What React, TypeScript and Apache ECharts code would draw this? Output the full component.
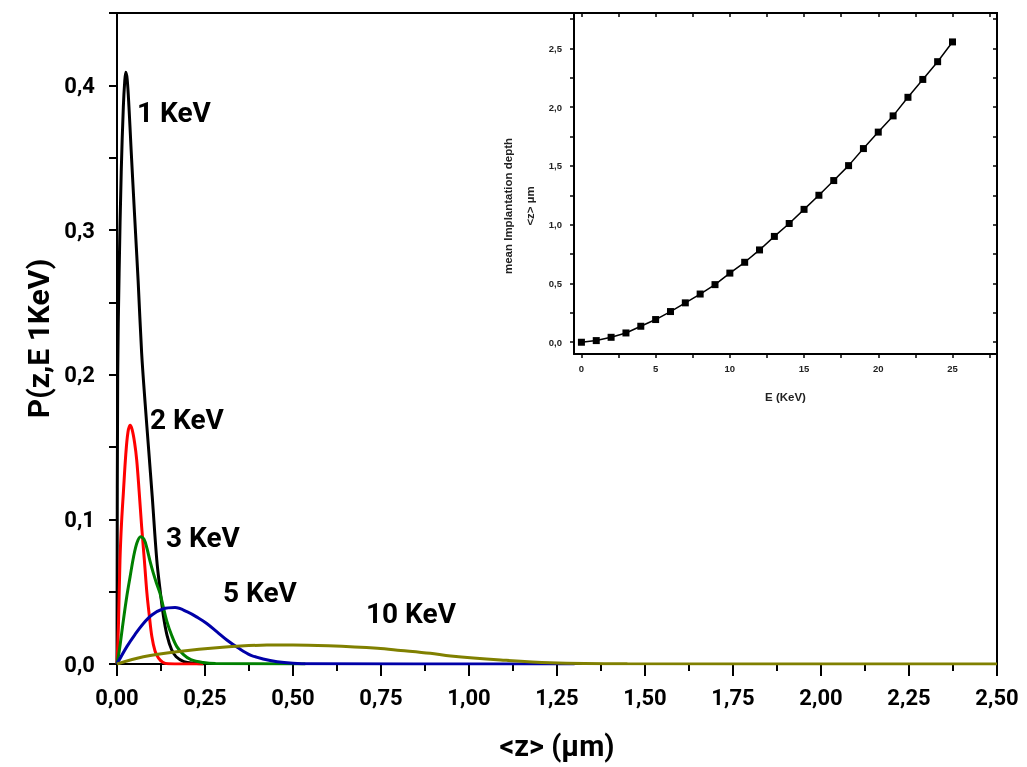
import React, { useEffect, useRef } from "react";
import * as echarts from "echarts";

// ---- Main chart data: depth z (µm) vs P(z,E) ----
const curve1KeV: [number, number][] = [
  [0, 0], [0.002, 0.2], [0.006, 0.27], [0.012, 0.34], [0.018, 0.385], [0.022, 0.403],
  [0.025, 0.409], [0.029, 0.404], [0.034, 0.385], [0.04, 0.356], [0.05, 0.31],
  [0.06, 0.265], [0.07, 0.215], [0.08, 0.18], [0.09, 0.148], [0.1, 0.116],
  [0.113, 0.072], [0.122, 0.052], [0.132, 0.033], [0.142, 0.02], [0.155, 0.01],
  [0.168, 0.005], [0.19, 0.0017], [0.22, 0.0005], [0.25, 0],
];
const curve2KeV: [number, number][] = [
  [0, 0], [0.004, 0.026], [0.0085, 0.072], [0.013, 0.098], [0.018, 0.118], [0.025, 0.145],
  [0.031, 0.16], [0.037, 0.165], [0.043, 0.162], [0.05, 0.153], [0.056, 0.141],
  [0.063, 0.119], [0.07, 0.095], [0.078, 0.071], [0.085, 0.049], [0.092, 0.033],
  [0.099, 0.019], [0.108, 0.009], [0.118, 0.004], [0.13, 0.0012], [0.145, 0.0002], [0.245, 0],
];
const curve3KeV: [number, number][] = [
  [0, 0], [0.007, 0.01], [0.018, 0.03], [0.028, 0.047], [0.037, 0.06], [0.047, 0.074],
  [0.057, 0.084], [0.067, 0.088], [0.077, 0.086], [0.085, 0.08], [0.094, 0.071],
  [0.103, 0.063], [0.112, 0.056], [0.122, 0.049], [0.131, 0.04], [0.141, 0.03],
  [0.155, 0.02], [0.17, 0.012], [0.189, 0.0065], [0.21, 0.003], [0.245, 0.001],
  [0.28, 0.0003], [0.535, 0],
];
const curve5KeV: [number, number][] = [
  [0, 0], [0.028, 0.012], [0.05, 0.02], [0.075, 0.028], [0.1, 0.034], [0.13, 0.038],
  [0.165, 0.039], [0.2, 0.036], [0.23, 0.032], [0.255, 0.028], [0.285, 0.022],
  [0.312, 0.0166], [0.345, 0.011], [0.379, 0.0062], [0.415, 0.0035], [0.455, 0.0016],
  [0.5, 0.0006], [0.55, 0.0002], [1.3, 0],
];
const curve10KeV: [number, number][] = [
  [0, 0], [0.075, 0.005], [0.17, 0.0085], [0.3, 0.0115], [0.426, 0.0131], [0.5, 0.0132],
  [0.6, 0.0126], [0.74, 0.0109], [0.806, 0.0094], [0.89, 0.0074], [0.948, 0.0055],
  [1.09, 0.0028], [1.23, 0.0009], [1.45, 0.0002], [2.5, 0],
];

const curveNames = ["1 KeV", "2 KeV", "3 KeV", "5 KeV", "10 KeV"];
const curveColors = ["#000000", "#ff0000", "#008000", "#0000a8", "#808000"];
const curves = [curve1KeV, curve2KeV, curve3KeV, curve5KeV, curve10KeV];

// ---- Inset data: mean implantation depth vs energy ----
const insetEnergy = [0, 1, 2, 3, 4, 5, 6, 7, 8, 9, 10, 11, 12, 13, 14, 15, 16, 17, 18, 19, 20, 21, 22, 23, 24, 25];
const insetDepth = [
  0, 0.014, 0.042, 0.079, 0.136, 0.193, 0.261, 0.335, 0.41, 0.49, 0.588, 0.68, 0.785,
  0.9, 1.01, 1.13, 1.25, 1.375, 1.502, 1.647, 1.787, 1.925, 2.083, 2.235, 2.386, 2.554,
];

// ---- Tick values ----
const insetXTicks = [0, 2.5, 5, 7.5, 10, 12.5, 15, 17.5, 20, 22.5, 25, 27.5];
const insetXLabels = [0, 5, 10, 15, 20, 25];
const insetYTicks = [0, 0.25, 0.5, 0.75, 1, 1.25, 1.5, 1.75, 2, 2.25, 2.5, 2.75];
const insetYLabels = [0, 0.5, 1, 1.5, 2, 2.5];
const insetYNameLines = ["mean Implantation depth", "<z> µm"];

// curve label positions (pixels)
const labelPos: [number, number][] = [[137, 112], [150, 419], [166, 537], [223, 592], [366, 613]];
const insetNamePos: [number, number][] = [[508, 206], [530, 206]];

const MAINFONT = "Roboto, sans-serif";
const INSETFONT = "sans-serif";

const comma = (v: number, d: number) => v.toFixed(d).replace(".", ",");
const isMult = (v: number, s: number) => Math.abs(v / s - Math.round(v / s)) < 1e-6;

export default function App() {
  const ref = useRef<HTMLDivElement>(null);
  useEffect(() => {
    if (!ref.current) return;
    const chart = echarts.init(ref.current, undefined, { renderer: "svg" });
    const option: any = {
      animation: false,
      grid: [
        { left: 117, top: 13, width: 880, height: 651, show: true, borderColor: "#000", borderWidth: 2 },
        { left: 574, top: 13, width: 423, height: 341 },
      ],
      xAxis: [
        {
          gridIndex: 0, type: "value", min: 0, max: 2.5, interval: 0.25,
          name: "<z> (μm)", nameLocation: "middle", nameGap: 67,
          nameTextStyle: { fontFamily: MAINFONT, fontWeight: "bold", fontSize: 29, color: "#000" },
          axisLine: { show: true, onZero: false, lineStyle: { color: "#000", width: 2 } },
          axisTick: { show: true, length: 12, lineStyle: { color: "#000", width: 2 } },
          minorTick: { show: true, splitNumber: 2, length: 7, lineStyle: { color: "#000", width: 2 } },
          axisLabel: { formatter: (v: number) => comma(v, 2), fontFamily: MAINFONT, fontWeight: "bold", fontSize: 22, color: "#000", margin: 22 },
          splitLine: { show: false },
        },
        {
          gridIndex: 1, type: "value", min: -0.5, max: 28, position: "bottom",
          name: "E (KeV)", nameLocation: "middle", nameGap: 37,
          nameTextStyle: { fontFamily: INSETFONT, fontWeight: "bold", fontSize: 11.5, color: "#222" },
          axisLine: { show: true, onZero: false, lineStyle: { color: "#000", width: 2 } },
          axisTick: { show: true, customValues: insetXTicks, length: 4, lineStyle: { color: "#000", width: 1.5 } },
          axisLabel: { customValues: insetXLabels, fontFamily: INSETFONT, fontWeight: "bold", fontSize: 9.5, color: "#222", margin: 9 },
          splitLine: { show: false },
        },
        {
          gridIndex: 1, type: "value", min: -0.5, max: 28, position: "top",
          axisLine: { show: true, onZero: false, lineStyle: { color: "#000", width: 2 } },
          axisTick: { show: true, inside: true, customValues: insetXTicks, length: 4, lineStyle: { color: "#000", width: 1.5 } },
          axisLabel: { show: false },
          splitLine: { show: false },
        },
      ],
      yAxis: [
        {
          gridIndex: 0, type: "value", min: 0, max: 0.45, interval: 0.05,
          name: "P(z,E 1KeV)", nameLocation: "middle", nameGap: 62,
          nameTextStyle: { fontFamily: MAINFONT, fontWeight: "bold", fontSize: 30, color: "#000" },
          axisLine: { show: true, onZero: false, lineStyle: { color: "#000", width: 2 } },
          axisTick: { show: true, length: 8, lineStyle: { color: "#000", width: 2 } },
          axisLabel: {
            formatter: (v: number) => (isMult(v, 0.1) && v < 0.44 ? comma(v, 1) : ""),
            fontFamily: MAINFONT, fontWeight: "bold", fontSize: 22, color: "#000", margin: 22,
          },
          splitLine: { show: false },
        },
        {
          gridIndex: 1, type: "value", min: -0.1, max: 2.8, position: "left",
          axisLine: { show: true, onZero: false, lineStyle: { color: "#000", width: 2 } },
          axisTick: { show: true, customValues: insetYTicks, length: 4, lineStyle: { color: "#000", width: 1.5 } },
          axisLabel: {
            customValues: insetYLabels,
            formatter: (v: number) => comma(v, 1),
            fontFamily: INSETFONT, fontWeight: "bold", fontSize: 9.5, color: "#222", margin: 12,
          },
          splitLine: { show: false },
        },
        {
          gridIndex: 1, type: "value", min: -0.1, max: 2.8, position: "right",
          axisLine: { show: true, onZero: false, lineStyle: { color: "#000", width: 2 } },
          axisTick: { show: true, inside: true, customValues: insetYTicks, length: 4, lineStyle: { color: "#000", width: 1.5 } },
          axisLabel: { show: false },
          splitLine: { show: false },
        },
      ],
      series: [
        ...curves.map((data, i) => ({
          name: curveNames[i],
          type: "line",
          xAxisIndex: 0,
          yAxisIndex: 0,
          data,
          showSymbol: false,
          smooth: 0.35,
          lineStyle: { color: curveColors[i], width: 3 },
          itemStyle: { color: curveColors[i] },
        })),
        {
          name: "mean depth",
          type: "line",
          xAxisIndex: 1,
          yAxisIndex: 1,
          data: insetEnergy.map((e, i) => [e, insetDepth[i]]),
          symbol: "rect",
          symbolSize: 7,
          lineStyle: { color: "#000", width: 1.5 },
          itemStyle: { color: "#000" },
        },
      ],
      graphic: [
        ...curveNames.map((t, i) => ({
          type: "text",
          x: labelPos[i][0],
          y: labelPos[i][1],
          style: {
            text: t,
            fill: "#000",
            fontFamily: MAINFONT,
            fontWeight: "bold",
            fontSize: 28,
            verticalAlign: "middle",
            align: "left",
          },
        })),
        ...insetYNameLines.map((t, i) => ({
          type: "text",
          x: insetNamePos[i][0],
          y: insetNamePos[i][1],
          rotation: Math.PI / 2,
          style: {
            text: t,
            fill: "#222",
            fontFamily: INSETFONT,
            fontWeight: "bold",
            fontSize: 11.5,
            verticalAlign: "middle",
            align: "center",
          },
        })),
      ],
    };
    chart.setOption(option);
    return () => chart.dispose();
  }, []);
  return <div ref={ref} style={{ position: "fixed", left: 0, top: 0, width: 1027, height: 767 }} />;
}
